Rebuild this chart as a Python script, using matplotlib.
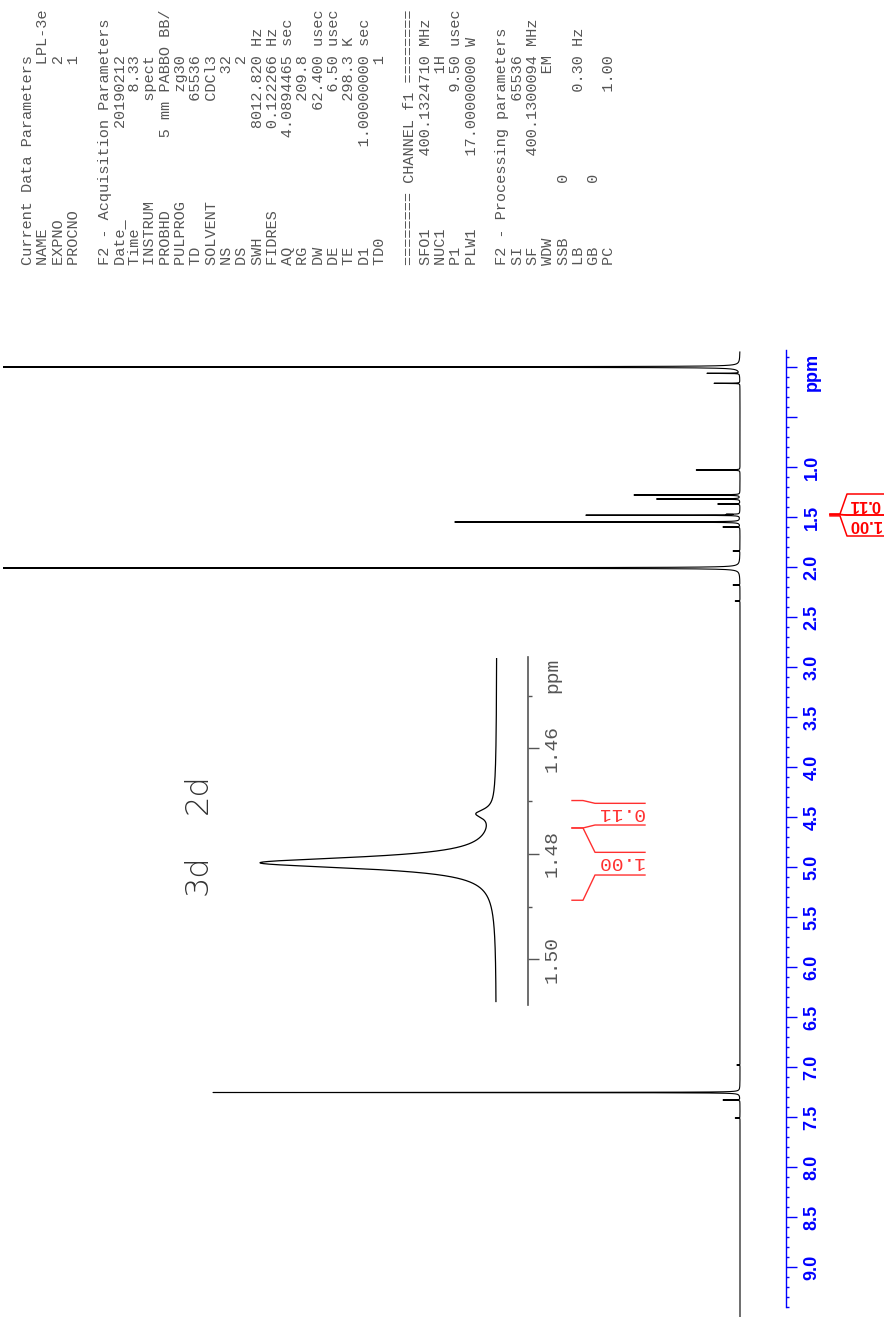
import numpy as np
import matplotlib
matplotlib.use("Agg")
import matplotlib.pyplot as plt

W, H = 884, 1317

# peak list: shift (ppm), height (CDCl3 line = 1), half width (ppm)
shift = [0.000, 0.063, 0.163, 1.030, 1.280, 1.320, 1.370, 1.4724, 1.4817,
         1.550, 1.600, 1.840, 2.010, 2.180, 2.340, 6.980, 7.255, 7.330, 7.510]
height = [4.0, 0.061, 0.049, 0.083, 0.201, 0.158, 0.042, 0.0204, 0.292,
          0.541, 0.032, 0.013, 4.0, 0.013, 0.009, 0.006, 1.0, 0.032, 0.009]
hwhm = [0.0013, 0.0013, 0.0013, 0.0013, 0.0013, 0.0013, 0.0013, 0.0010, 0.0013,
        0.0013, 0.0013, 0.0013, 0.0013, 0.0013, 0.0013, 0.0013, 0.0013, 0.0013, 0.0013]

ppm_labels = ["", "", "1.0", "1.5", "2.0", "2.5", "3.0", "3.5", "4.0", "4.5",
              "5.0", "5.5", "6.0", "6.5", "7.0", "7.5", "8.0", "8.5", "9.0"]
inset_ticks = [1.46, 1.48, 1.50]
inset_labels = ["1.46", "1.48", "1.50"]

# integrals (ppm ranges) and their values
integ_ranges = [(1.4699, 1.4751), (1.4751, 1.4888)]
integ_values = ["0.11", "1.00"]

# peak assignments in the expansion
peak_names = ["2d", "3d"]
peak_name_ppm = [1.4686, 1.4840]

# acquisition / processing parameters
current_names = ["NAME", "EXPNO", "PROCNO"]
current_values = ["LPL-3e", "2", "1"]
acq_names = ["Date_", "Time", "INSTRUM", "PROBHD", "PULPROG", "TD", "SOLVENT",
             "NS", "DS", "SWH", "FIDRES", "AQ", "RG", "DW", "DE", "TE", "D1", "TD0"]
acq_values = ["20190212", "8.33", "spect", "5 mm PABBO BB/", "zg30", "65536",
              "CDCl3", "32", "2", "8012.820", "0.122266", "4.0894465", "209.8",
              "62.400", "6.50", "298.3", "1.00000000", "1"]
acq_units = ["", "", "", "", "", "", "", "", "", "Hz", "Hz", "sec", "", "usec",
             "usec", "K", "sec", ""]
ch_names = ["SFO1", "NUC1", "P1", "PLW1"]
ch_values = ["400.1324710", "1H", "9.50", "17.00000000"]
ch_units = ["MHz", "", "usec", "W"]
proc_names = ["SI", "SF", "WDW", "SSB", "LB", "GB", "PC"]
proc_values = ["65536", "400.1300094", "EM", "0", "0.30", "0", "1.00"]
proc_units = ["", "MHz", "", "", "Hz", "", ""]

end_col = {"NAME": 27, "PROBHD": 27, "SSB": 9, "GB": 9}


def row(name, value, unit=""):
    end = end_col.get(name, 22)
    s = name.ljust(end + 1 - len(value)) + value
    return s + (" " + unit if unit else "")


def box(x0, y0, x1, y1):
    """pixel box (top-left origin) -> figure fraction rect"""
    return [x0 / W, 1 - y1 / H, (x1 - x0) / W, (y1 - y0) / H]


def spectrum(x):
    y = np.zeros_like(x)
    for p, h, w in zip(shift, height, hwhm):
        y += h / (1 + ((x - p) / w) ** 2)
    return y


fig = plt.figure(figsize=(W / 100, H / 100), dpi=100)

# ---- main spectrum: ppm runs down the page, intensity to the left ----------
ax = fig.add_axes(box(3, 350, 786, 1317))
ax.set_facecolor("none")
ppm = np.sort(np.concatenate([np.linspace(-0.15, 9.50, 60000), shift]))
ax.plot(spectrum(ppm), ppm, color="black", lw=0.8)
ax.set_xlim((740 - 3) / 527, (740 - 786) / 527)
ax.set_ylim(9.50, -0.17)
for s in ["left", "top", "bottom"]:
    ax.spines[s].set_visible(False)
ax.spines["right"].set_color("blue")
ax.spines["right"].set_linewidth(1.0)
ax.spines["right"].set_bounds(-0.17, 9.40)
ax.set_xticks([])
ax.yaxis.tick_right()
ax.set_yticks(np.arange(0, 9.01, 0.5))
ax.set_yticklabels(ppm_labels)
ax.set_yticks(np.arange(-0.1, 9.41, 0.1), minor=True)
ax.tick_params(axis="y", which="major", length=7.9, width=1, color="blue",
               direction="out", pad=4.8, labelcolor="blue", labelrotation=90,
               labelsize=13)
ax.tick_params(axis="y", which="minor", length=2.5, width=1, color="blue",
               direction="out")
for t in ax.get_yticklabels():
    t.set_fontweight("bold")
    t.set_family("Liberation Sans")
    t.set_va("center")
ax.annotate("ppm", xy=(1, 0.045), xycoords=("axes fraction", "data"),
            xytext=(12.7, 0), textcoords="offset points", rotation=90,
            ha="left", va="center", color="blue", fontsize=13,
            fontweight="bold", family="Liberation Sans")


def mx(px):
    return (740 - px) / 527


main_boxes = [(1.27, 1.48), (1.48, 1.69)]
for (lo, hi), (top, bot), val in zip(integ_ranges, main_boxes, integ_values):
    ax.plot([mx(830), mx(840), mx(847), mx(884)], [lo, lo, top, top],
            color="red", lw=1.1, clip_on=False)
    ax.plot([mx(830), mx(840), mx(847), mx(884)], [hi, hi, bot, bot],
            color="red", lw=1.1, clip_on=False)
    ax.text(mx(865), (top + bot) / 2 - 0.005, val, rotation=180, ha="center",
            va="center", color="red", fontsize=12, fontweight="bold",
            family="Liberation Sans", clip_on=False)

# ---- expansion of the 1.48 ppm signal --------------------------------------
ax_in = fig.add_axes(box(150, 657, 528, 1005))
ax_in.set_facecolor("none")
ppm_in = np.linspace(1.4430, 1.5080, 4000)
spec_in = spectrum(ppm_in)
spec_in = spec_in / spec_in.max()
ax_in.plot(spec_in, ppm_in, color="black", lw=0.9)
ax_in.set_xlim((497 - 150) / 237, (497 - 528) / 237)
ax_in.set_ylim(1.50866, 1.44269)
for s in ["left", "top", "bottom"]:
    ax_in.spines[s].set_visible(False)
ax_in.spines["right"].set_color("#555555")
ax_in.spines["right"].set_linewidth(1.2)
ax_in.set_xticks([])
ax_in.yaxis.tick_right()
ax_in.set_yticks(inset_ticks)
ax_in.set_yticklabels(inset_labels)
ax_in.set_yticks([1.45, 1.47, 1.49], minor=True)
ax_in.tick_params(axis="y", which="major", length=7.9, width=1, color="#555555",
                  direction="out", pad=3.6, labelcolor="#555555",
                  labelrotation=90, labelsize=14)
ax_in.tick_params(axis="y", which="minor", length=2.9, width=1,
                  color="#555555", direction="out")
for t in ax_in.get_yticklabels():
    t.set_family("Liberation Mono")
    t.set_va("center")
ax_in.annotate("ppm", xy=(1, 1.4461), xycoords=("axes fraction", "data"),
               xytext=(11.5, 0), textcoords="offset points", rotation=90,
               ha="left", va="center", color="#555555", fontsize=14,
               family="Liberation Mono")


def ix(px):
    return (497 - px) / 237


for name, p in zip(peak_names, peak_name_ppm):
    ax_in.text(ix(198), p, name, rotation=90, ha="center", va="center",
               fontsize=23, family="DejaVu Sans", fontweight="light",
               color="#333333", clip_on=False)

inset_boxes = [(1.47043, 1.47454), (1.47972, 1.48402)]
for (lo, hi), (top, bot), val in zip(integ_ranges, inset_boxes, integ_values):
    ax_in.plot([ix(572), ix(583), ix(595), ix(645)], [lo, lo, top, top],
               color="#ff3030", lw=1.0, clip_on=False)
    ax_in.plot([ix(572), ix(583), ix(595), ix(645)], [hi, hi, bot, bot],
               color="#ff3030", lw=1.0, clip_on=False)
    ax_in.text(ix(620), (top + bot) / 2 - 0.0004, val, rotation=180,
               ha="center", va="center", color="#ff3030", fontsize=14,
               family="Liberation Mono", clip_on=False)

# ---- parameter block, rotated like the rest of the page --------------------
lines = ["Current Data Parameters"]
lines += [row(n, v) for n, v in zip(current_names, current_values)]
lines += ["", "F2 - Acquisition Parameters"]
lines += [row(n, v, u) for n, v, u in zip(acq_names, acq_values, acq_units)]
lines += ["", "======== CHANNEL f1 ========"]
lines += [row(n, v, u) for n, v, u in zip(ch_names, ch_values, ch_units)]
lines += ["", "F2 - Processing parameters"]
lines += [row(n, v, u) for n, v, u in zip(proc_names, proc_values, proc_units)]

for k, line in enumerate(lines):
    if line:
        fig.text((28 + 15.3 * k) / W, 1 - 265 / H, line, rotation=90,
                 rotation_mode="anchor", ha="left", va="center",
                 family="Liberation Mono", fontsize=11, color="#555555")

fig.savefig("out.png", dpi=100)
